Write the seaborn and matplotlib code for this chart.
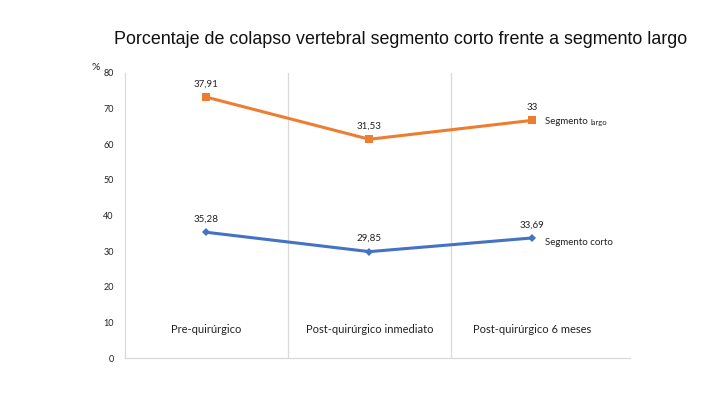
import matplotlib
matplotlib.use("Agg")
import matplotlib.pyplot as plt
import seaborn as sns
import pandas as pd
import numpy as np

categories = ["Pre-quirúrgico", "Post-quirúrgico inmediato", "Post-quirúrgico 6 meses"]
corto = [35.28, 29.85, 33.69]
largo = [37.91, 31.53, 33.0]
corto_labels = ["35,28", "29,85", "33,69"]
largo_labels = ["37,91", "31,53", "33"]
yticks = [0, 10, 20, 30, 40, 50, 60, 70, 80]

sns.set_theme(style="white")
plt.rcParams['font.family'] = ['Lato', 'DejaVu Sans']

x = np.arange(len(categories))
stack_top = np.array(corto) + np.array(largo)
df = pd.DataFrame({
    "x": np.concatenate([x, x]),
    "valor": np.concatenate([corto, stack_top]),
    "serie": ["corto"] * 3 + ["largo"] * 3,
})

fig = plt.figure(figsize=(7.2, 4.05), dpi=100)
ax = fig.add_axes([0.1736, 0.116, 0.7014, 0.704])

blue = "#4472C4"
orange = "#ED7D31"
sns.lineplot(data=df[df.serie == "corto"], x="x", y="valor", color=blue,
             marker="D", markersize=4.2, linewidth=2.2, markeredgewidth=0,
             legend=False, ax=ax)
sns.lineplot(data=df[df.serie == "largo"], x="x", y="valor", color=orange,
             marker="s", markersize=5.5, linewidth=2.2, markeredgewidth=0,
             legend=False, ax=ax)

ax.set_xlim(-0.5, 2.6)
ax.set_ylim(0, 80)
ax.set_yticks(yticks)
ax.set_yticklabels([str(t) for t in yticks], fontsize=6.5, color="#222222")
ax.set_xticks([])
ax.set_xlabel("")
ax.set_ylabel("")
ax.tick_params(axis="y", length=0, pad=8)

for s in ["top", "right"]:
    ax.spines[s].set_visible(False)
for s in ["left", "bottom"]:
    ax.spines[s].set_color("#D9D9D9")
    ax.spines[s].set_linewidth(0.9)

for b in [0.5, 1.5]:
    ax.axvline(b, color="#D9D9D9", linewidth=0.9, zorder=0)

for xi, cat in zip(x, categories):
    ax.text(xi, 7.9, cat, ha="center", va="center", fontsize=8, color="#222222")

for xi, yv, lab in zip(x, corto, corto_labels):
    ax.text(xi, yv + 2.4, lab, ha="center", va="bottom", fontsize=7, color="#222222")
for xi, yv, lab in zip(x, stack_top, largo_labels):
    ax.text(xi, yv + 2.4, lab, ha="center", va="bottom", fontsize=7, color="#222222")

ax.text(2.08, corto[-1] - 1.3, "Segmento corto", ha="left", va="center", fontsize=7, color="#222222")
t = ax.text(2.08, stack_top[-1] - 0.3, "Segmento ", ha="left", va="center", fontsize=7, color="#222222")
fig.canvas.draw()
bb = t.get_window_extent()
inv = ax.transData.inverted()
xend = inv.transform((bb.x1, bb.y0))[0]
ax.text(xend, stack_top[-1] - 0.6, "largo", ha="left", va="center", fontsize=5.5, color="#222222")

fig.text(96 / 720, 1 - 68 / 405, "%", ha="center", va="center", fontsize=7.5, color="#222222")
fig.text(401 / 720, 1 - 40 / 405, "Porcentaje de colapso vertebral segmento corto frente a segmento largo",
         ha="center", va="center", fontsize=12.9, color="#111111", family=["Liberation Sans"])

fig.savefig("out.png", dpi=100)
